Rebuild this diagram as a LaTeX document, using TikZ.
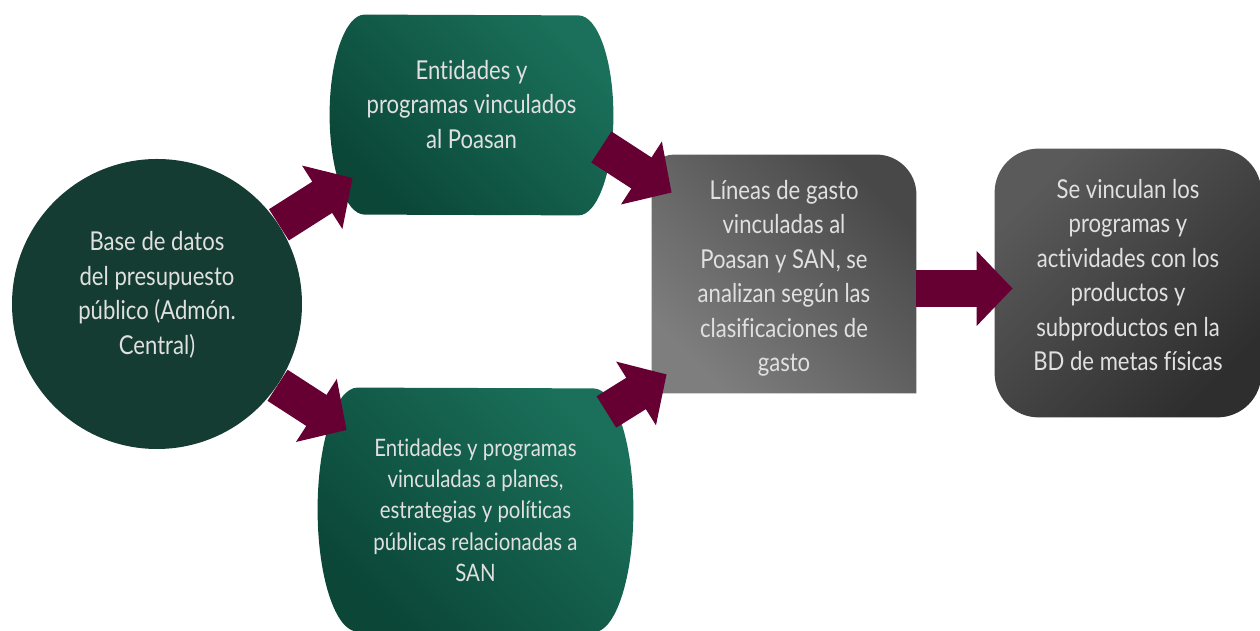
\documentclass[tikz,border=0pt]{standalone}
\usepackage{fontspec}
\setmainfont[FakeStretch=0.85, Ligatures=NoCommon]{Lato}
\usetikzlibrary{arrows.meta}
\pgfdeclarelayer{fondo}
\pgfsetlayers{fondo,main}
\definecolor{vino}{HTML}{660033}
\definecolor{verdeosc}{HTML}{143C32}
\definecolor{verdeA}{HTML}{1A705A}
\definecolor{verdeB}{HTML}{0B4637}
\definecolor{grisA}{HTML}{484848}
\definecolor{grisB}{HTML}{7E7E7E}
\definecolor{oscA}{HTML}{5A5A5A}
\definecolor{oscB}{HTML}{2E2E2E}

\begin{document}
\begin{tikzpicture}[x=0.5pt, y=0.5pt,
      texto/.style={text=white!88!black, align=center, inner sep=0pt, text depth=11pt,
        font=\fontsize{13}{17.25}\selectfont},
      flecha/.style={draw=vino, line width=18.5pt, -{Triangle[length=18pt, width=36.5pt]}}]
      \useasboundingbox (0,0) rectangle (1260,631);
      \node[texto, circle, minimum size=145pt](base) at (157,327){Base de datos\\del presupuesto\\público (Admón.\\Central)};
      \node[texto, minimum width=141.5pt, minimum height=100pt](poasan) at (471.5,516){Entidades y\\programas vinculados\\al Poasan};
      \node[texto, text depth=0pt, font=\fontsize{12}{15.65}\selectfont, minimum width=157.5pt, minimum height=122pt](san) at (475.5,121){Entidades y programas\\vinculadas a planes,\\estrategias y políticas\\públicas relacionadas a\\SAN};
      \node[texto, text depth=3pt, text height=101pt, minimum width=132pt, minimum height=119pt](gasto) at (784,357){Líneas de gasto\\vinculadas al\\Poasan y SAN, se\\analizan según las\\clasificaciones de\\gasto};
      \node[texto, text depth=8pt, minimum width=133pt, minimum height=134pt](metas) at (1128,348){Se vinculan los\\programas y\\actividades con los\\productos y\\subproductos en la\\BD de metas físicas};
      \begin{pgfonlayer}{fondo}
        \fill[verdeosc] (base.center) circle[radius=72.5pt];
        \shade[top color=verdeA, bottom color=verdeB, shading angle=-45]
          ([xshift=17.5pt]poasan.north west) arc[start angle=90, end angle=270, x radius=17.5pt, y radius=50pt]
          -- ([xshift=-17.5pt]poasan.south east) arc[start angle=-90, end angle=90, x radius=17.5pt, y radius=50pt] -- cycle;
        \shade[top color=verdeA, bottom color=verdeB, shading angle=-45]
          ([xshift=20pt]san.north west) arc[start angle=90, end angle=270, x radius=20pt, y radius=61pt]
          -- ([xshift=-20pt]san.south east) arc[start angle=-90, end angle=90, x radius=20pt, y radius=61pt] -- cycle;
        \shade[top color=grisA, bottom color=grisB, shading angle=-45]
          (gasto.south west) -- ([yshift=-11pt]gasto.north west) arc[start angle=180, end angle=90, radius=11pt]
          -- ([xshift=-20pt]gasto.north east) arc[start angle=90, end angle=0, radius=20pt] -- (gasto.south east) -- cycle;
        \shade[top color=oscA, bottom color=oscB, shading angle=45, rounded corners=22pt]
          (metas.south west) rectangle (metas.north east);
      \end{pgfonlayer}
      \draw[flecha] (base.33) -- ([shift={(11.5pt,-31.5pt)}]poasan.west);
      \draw[flecha] (base.-34) -- ([shift={(14.5pt,40pt)}]san.west);
      \draw[flecha] ([shift={(-6pt,-16pt)}]poasan.east) -- ([shift={(10pt,-19pt)}]gasto.north west);
      \draw[flecha] ([shift={(-13.5pt,49pt)}]san.east) -- ([shift={(7.5pt,9.5pt)}]gasto.south west);
      \draw[flecha] ([yshift=-7.25pt]gasto.east) -- ([shift={(9pt,-2.75pt)}]metas.west);
    \end{tikzpicture}
\end{document}
